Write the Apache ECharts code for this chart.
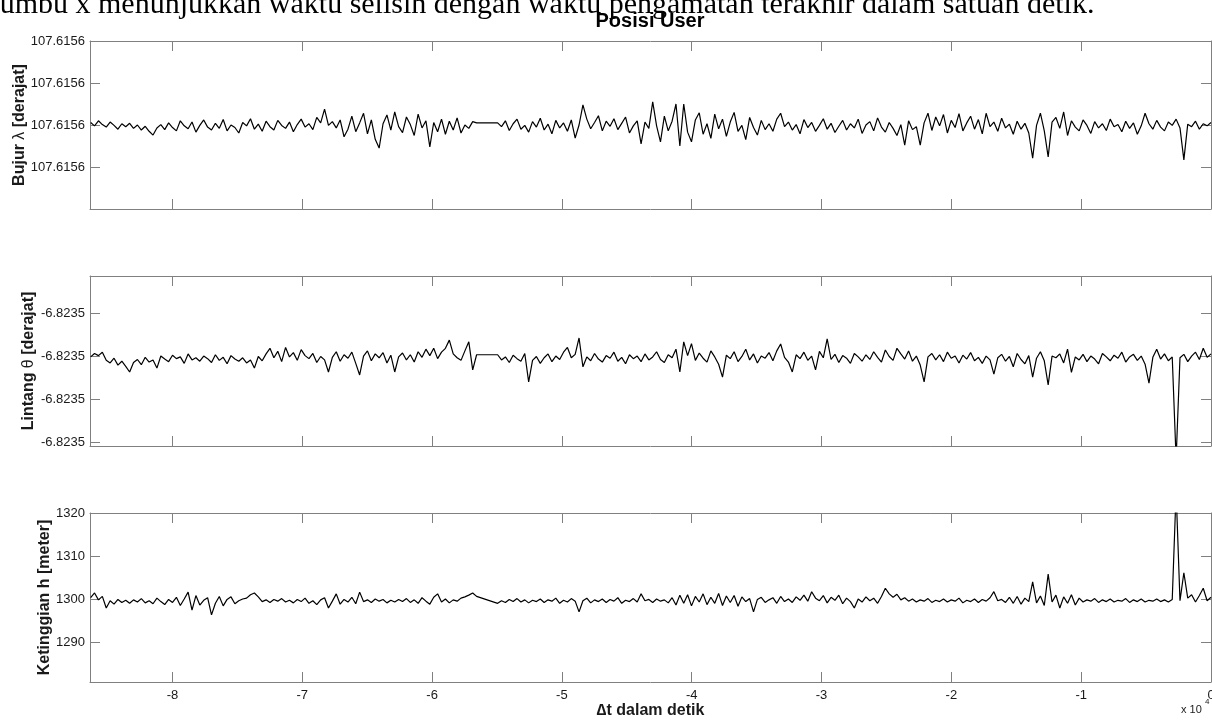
<!DOCTYPE html>
<html lang="id">
<head>
    <meta charset="UTF-8"/>
    <title>Posisi User</title>
    <script src="https://cdn.jsdelivr.net/npm/echarts@6/dist/echarts.min.js"></script>
    <style>html, body { margin: 0; background: #fff; }</style>
</head>
<body>
<div id="main" style="width: 1212px; height: 724px;"></div>
<script type="text/javascript">
    // waktu pengamatan: dua segmen (ada jeda data sekitar -5.6e4 s)
    var segmenWaktu = [[-86300, -56570], [-54950, 0]];
    var jumlahSegmen1 = 100;

    // bujur = 107.6156 + selisih * 1e-7 derajat
    var bujurSelisih = [
        206, 198, 210, 201, 195, 207, 199, 190, 203, 196,
        204, 192, 200, 188, 197, 185, 176, 193, 201, 189,
        205, 194, 186, 210, 198, 191, 207, 183, 199, 212,
        195, 188, 204, 192, 213, 186, 200, 194, 181, 206,
        198, 215, 190, 202, 185, 209, 196, 188, 211, 199,
        192, 207, 184, 201, 214, 195, 203, 189, 218, 205,
        238, 199, 208, 193, 212, 172, 190, 221, 184, 205,
        228, 179, 212, 166, 145, 203, 224, 188, 231, 196,
        182, 219, 201, 175, 226, 193, 210, 148, 206, 184,
        214, 178, 209, 188, 217, 181, 200, 192, 208, 205,
        // segmen 2
        205, 196, 210, 187, 203, 214, 190, 199, 183, 208,
        195, 216, 188, 202, 179, 211, 193, 205, 185, 212,
        169, 200, 248, 214, 191, 206, 222, 186, 209, 197,
        215, 189, 204, 219, 181, 198, 210, 155, 207, 192,
        255, 198, 160, 221, 186, 209, 250, 150, 250, 183,
        160, 212, 229, 178, 203, 168, 226, 191, 214, 173,
        207, 230, 185, 199, 165, 218, 194, 176, 211, 189,
        203, 185, 214, 228, 196, 207, 188, 201, 179, 213,
        194, 206, 185, 199, 215, 190, 204, 182, 197, 211,
        188, 203, 193, 214, 180, 200, 208, 186, 217, 195,
        183, 206, 192, 175, 201, 152, 210, 189, 196, 152,
        205, 228, 187, 219, 198, 225, 181, 211, 194, 227,
        186, 205, 221, 190, 213, 179, 228, 196, 207, 185,
        216, 193, 202, 178, 209, 190, 204, 181, 121, 199,
        228, 186, 124, 207, 218, 192, 231, 175, 210, 195,
        186, 212, 199, 180, 208, 193, 203, 187, 214, 196,
        201, 184, 209, 192, 205, 178, 198, 228, 203, 190,
        211, 195, 186, 207, 199, 214, 193, 117, 202, 196,
        209, 190, 203, 198, 206
    ];

    // lintang = -6.8235 + selisih * 1e-7 derajat
    var lintangSelisih = [
        298, 306, 301, 309, 290, 284, 295, 279, 288, 276,
        263, 285, 292, 280, 297, 286, 291, 272, 300, 293,
        287, 302, 294, 298, 283, 305, 291, 296, 288, 300,
        294, 285, 303, 290, 297, 282, 301, 293, 288, 296,
        284, 291, 272, 299, 289, 305, 318, 296, 311, 287,
        320, 298, 308, 290, 315, 301, 294, 306, 285, 299,
        291, 263, 297, 310, 288, 303, 295, 309, 283, 256,
        300, 312, 289, 305, 296, 308, 284, 302, 263, 298,
        307, 291, 303, 286, 310, 297, 316, 301, 318, 294,
        309, 318, 337, 305, 296, 290, 312, 333, 268, 303,
        // segmen 2
        303, 291, 298, 285, 302, 294, 288, 306, 240, 290,
        299, 283, 296, 305, 287, 300, 292, 309, 320, 296,
        304, 342, 275, 298, 289, 306, 293, 286, 301, 295,
        309, 288, 297, 282, 303, 294, 300, 287, 305, 291,
        298, 310, 292, 285, 303, 296, 316, 263, 333, 301,
        329, 290, 307, 295, 286, 312, 298, 281, 251, 302,
        294, 310, 287, 299, 316, 291, 305, 284, 300, 295,
        308, 289, 312, 328, 297, 286, 263, 303, 294, 309,
        290, 300, 268, 311, 296, 340, 292, 304, 285, 301,
        295, 283, 306, 298, 288, 303, 292, 310, 297, 286,
        314, 299, 290, 318, 305, 293, 312, 288, 300, 279,
        240, 298, 306, 291, 303, 287, 309, 295, 300, 284,
        302, 293, 308, 289, 297, 283, 300, 291, 258, 296,
        304, 288, 299, 275, 306, 292, 282, 301, 251, 295,
        310, 289, 233, 300, 296, 305, 284, 316, 262, 298,
        291, 304, 287, 300, 293, 282, 306, 298, 289, 302,
        295, 309, 286, 298, 304, 290, 300, 281, 237, 297,
        316, 293, 305, 289, 298, 60, 296, 304, 287, 300,
        309, 292, 318, 297, 305
    ];

    // ketinggian dalam meter
    var ketinggian = [
        1300.3, 1301.4, 1299.8, 1300.6, 1297.9, 1299.6, 1298.8, 1299.9, 1299.2, 1299.7,
        1299.0, 1299.8, 1299.3, 1300.1, 1299.1, 1299.6, 1298.9, 1300.2, 1299.4, 1298.7,
        1299.9, 1299.2, 1300.4, 1298.5, 1300.0, 1301.6, 1297.4, 1300.8, 1298.6, 1299.7,
        1300.3, 1296.3, 1299.0, 1300.6, 1298.4, 1299.9, 1300.5, 1298.9, 1299.6, 1300.0,
        1300.2, 1301.0, 1301.4, 1300.5, 1299.4, 1299.8, 1299.2, 1299.9, 1299.5, 1300.1,
        1299.3, 1299.7, 1299.1, 1299.9, 1299.4, 1300.2, 1299.0, 1299.6, 1298.7, 1299.8,
        1300.3, 1297.9, 1299.5, 1301.2, 1298.8, 1299.9, 1299.3, 1300.4, 1298.9, 1301.6,
        1299.4, 1299.8, 1299.2, 1300.0, 1299.5, 1299.9, 1299.1, 1299.7, 1299.3, 1299.9,
        1299.4, 1300.1, 1299.2, 1299.8, 1299.0, 1300.3, 1299.5, 1298.8, 1300.4, 1301.2,
        1299.3, 1300.0, 1299.1, 1299.8, 1299.5, 1300.2, 1300.5, 1300.9, 1301.4, 1300.6,
        // segmen 2
        1299.0, 1299.6, 1299.2, 1299.9, 1299.4, 1300.1, 1299.3, 1299.8, 1299.1, 1299.7,
        1299.4, 1300.0, 1299.2, 1299.8, 1299.5, 1300.2, 1299.0, 1299.7, 1299.3, 1300.1,
        1299.5, 1297.0, 1299.6, 1300.2, 1299.1, 1299.8, 1299.4, 1300.0, 1299.2, 1299.9,
        1299.5, 1300.3, 1299.0, 1299.7, 1299.4, 1300.1, 1299.3, 1301.2, 1299.6, 1299.9,
        1299.2, 1300.0, 1299.5, 1299.8, 1299.1, 1300.3, 1298.6, 1300.9, 1299.0, 1301.0,
        1298.4, 1300.6, 1299.3, 1301.2, 1298.7, 1300.4, 1299.0, 1301.3, 1298.5, 1300.7,
        1299.2, 1300.8, 1298.3, 1300.5, 1299.4, 1300.1, 1297.0, 1299.9, 1300.4, 1299.2,
        1299.8, 1300.3, 1299.0, 1300.6, 1299.4, 1300.0, 1299.2, 1300.5, 1299.7, 1300.9,
        1299.5, 1301.7, 1300.2, 1299.6, 1300.8, 1299.1, 1300.4, 1299.7, 1300.9, 1298.9,
        1300.2, 1299.4, 1297.9, 1300.0, 1299.3, 1300.5, 1299.6, 1300.2, 1299.0, 1300.6,
        1302.5, 1301.2, 1300.4, 1301.1, 1299.8, 1300.3, 1299.5, 1300.0, 1299.3, 1299.8,
        1299.5, 1300.1, 1299.2, 1299.7, 1299.4, 1300.0, 1299.3, 1299.8, 1299.5, 1300.2,
        1299.1, 1299.7, 1299.4, 1300.0, 1299.2, 1299.9, 1299.5, 1300.3, 1301.7, 1299.6,
        1299.9, 1299.2, 1300.4, 1299.0, 1300.6, 1298.8, 1300.2, 1299.4, 1304.0, 1299.1,
        1300.7, 1298.5, 1305.8, 1299.3, 1300.9, 1297.9, 1300.5, 1299.0, 1301.0, 1298.6,
        1300.2, 1299.3, 1299.8, 1299.5, 1300.1, 1299.2, 1299.8, 1299.4, 1300.0, 1299.3,
        1299.7, 1299.5, 1300.1, 1299.2, 1299.8, 1299.4, 1300.0, 1299.3, 1299.7, 1299.5,
        1300.0, 1299.4, 1299.8, 1299.3, 1299.9, 1325.0, 1299.6, 1306.1, 1300.2, 1301.0,
        1299.3, 1300.8, 1302.5, 1299.6, 1300.4
    ];

    // tick
    var tickX = [-80000, -70000, -60000, -50000, -40000, -30000, -20000, -10000, 0];
    var tickBujur = [107.61561, 107.61562, 107.61563, 107.61564];
    var tickLintang = [-6.82349, -6.82348, -6.82347, -6.82346];
    var tickTinggi = [1290, 1300, 1310, 1320];

    var fontSans = '"Liberation Sans", Arial, Helvetica, sans-serif';
    var warnaBingkai = '#808080';
    var warnaTeks = '#1a1a1a';

    function daftarWaktu(n) {
        var t = [];
        var n2 = n - jumlahSegmen1;
        var a = segmenWaktu[0], b = segmenWaktu[1];
        for (var i = 0; i < jumlahSegmen1; i++) {
            t.push(a[0] + (a[1] - a[0]) * i / (jumlahSegmen1 - 1));
        }
        for (var j = 0; j < n2; j++) {
            t.push(b[0] + (b[1] - b[0]) * j / (n2 - 1));
        }
        return t;
    }

    function pasangan(nilai) {
        var t = daftarWaktu(nilai.length);
        return nilai.map(function (v, i) { return [t[i], v]; });
    }

    var dataBujur = pasangan(bujurSelisih.map(function (d) { return 107.6156 + d * 1e-7; }));
    var dataLintang = pasangan(lintangSelisih.map(function (d) { return -6.8235 + d * 1e-7; }));
    var dataTinggi = pasangan(ketinggian);

    function sumbuX(grid, posisi, label) {
        return {
            type: 'value', gridIndex: grid, position: posisi,
            min: -86350, max: 0,
            axisLine: {show: true, onZero: false, lineStyle: {color: warnaBingkai, width: 1}},
            axisTick: {show: true, inside: true, length: 10, customValues: tickX,
                lineStyle: {color: warnaBingkai, width: 1}},
            axisLabel: {show: label, customValues: tickX, margin: 7, fontFamily: fontSans,
                fontSize: 13, color: warnaTeks, hideOverlap: false,
                formatter: function (v) { return String(Math.round(v / 1e4)); }},
            splitLine: {show: false}
        };
    }

    function sumbuY(grid, posisi, min, max, tick, label, nama, jarak) {
        var s = {
            type: 'value', gridIndex: grid, position: posisi,
            min: min, max: max, scale: true,
            axisLine: {show: true, onZero: false, lineStyle: {color: warnaBingkai, width: 1}},
            axisTick: {show: true, inside: true, length: 10, customValues: tick,
                lineStyle: {color: warnaBingkai, width: 1}},
            axisLabel: {show: !!label, customValues: tick, margin: 5, fontFamily: fontSans,
                fontSize: 13, color: warnaTeks, formatter: label || undefined},
            splitLine: {show: false}
        };
        if (nama) {
            s.name = nama;
            s.nameLocation = 'middle';
            s.nameGap = jarak;
            s.nameRotate = 90;
            s.nameMoveOverlap = false;
            s.nameTextStyle = {fontFamily: fontSans, fontSize: 16, fontWeight: 'bold', color: warnaTeks,
                rich: {g: {fontFamily: fontSans, fontSize: 16, fontWeight: 'normal', color: warnaTeks}}};
        }
        return s;
    }

    function empatDesimal(v) { return v.toFixed(4); }
    function bulat(v) { return String(Math.round(v)); }

    function kotak(top, tinggi) {
        return {left: 90, top: top, width: 1121, height: tinggi,
            containLabel: false, outerBoundsMode: 'none'};
    }
    var grids = [kotak(41, 168), kotak(276, 170), kotak(513, 169)];

    var xAxes = [
        sumbuX(0, 'bottom', false), sumbuX(0, 'top', false),
        sumbuX(1, 'bottom', false), sumbuX(1, 'top', false),
        sumbuX(2, 'bottom', true), sumbuX(2, 'top', false)
    ];
    xAxes[4].name = '\u2206t dalam detik';
    xAxes[4].nameLocation = 'middle';
    xAxes[4].nameGap = 21;
    xAxes[4].nameTextStyle = {fontFamily: fontSans, fontSize: 16, fontWeight: 'bold', color: warnaTeks};

    var yAxes = [
        sumbuY(0, 'left', 107.6156, 107.61564, tickBujur, empatDesimal, 'Bujur {g|\u03bb} [derajat]', 62),
        sumbuY(0, 'right', 107.6156, 107.61564, tickBujur, null),
        sumbuY(1, 'left', -6.8235 + 91e-7, -6.8235 + 486e-7, tickLintang, empatDesimal, 'Lintang {g|\u03b8} [derajat]', 53),
        sumbuY(1, 'right', -6.8235 + 91e-7, -6.8235 + 486e-7, tickLintang, null),
        sumbuY(2, 'left', 1280.7, 1320, tickTinggi, bulat, 'Ketinggian h [meter]', 37),
        sumbuY(2, 'right', 1280.7, 1320, tickTinggi, null)
    ];

    function seri(idx, data) {
        return {
            type: 'line', xAxisIndex: idx * 2, yAxisIndex: idx * 2, data: data,
            showSymbol: false, symbol: 'none', clip: true,
            lineStyle: {color: '#000', width: 1.2}
        };
    }

    var myChart = echarts.init(document.getElementById('main'));
    var option = {
        animation: false,
        backgroundColor: '#fff',
        grid: grids,
        xAxis: xAxes,
        yAxis: yAxes,
        series: [seri(0, dataBujur), seri(1, dataLintang), seri(2, dataTinggi)],
        graphic: [
            {type: 'text', x: -12, y: 5, silent: true,
                style: {text: 'sumbu x menunjukkan waktu selisih dengan waktu pengamatan terakhir dalam satuan detik.',
                    font: '30px "Liberation Serif", "Times New Roman", serif', fill: '#000',
                    textAlign: 'left', textVerticalAlign: 'middle', align: 'left', verticalAlign: 'middle'}},
            {type: 'text', x: 650, y: 21, silent: true,
                style: {text: 'Posisi User', font: 'bold 20px ' + fontSans, fill: '#000',
                    textAlign: 'center', textVerticalAlign: 'middle', align: 'center', verticalAlign: 'middle'}},
            {type: 'text', x: 1181, y: 710, silent: true,
                style: {text: 'x 10', font: '11px ' + fontSans, fill: warnaTeks,
                    textAlign: 'left', textVerticalAlign: 'middle', align: 'left', verticalAlign: 'middle'}},
            {type: 'text', x: 1205, y: 702, silent: true,
                style: {text: '4', font: '8px ' + fontSans, fill: warnaTeks,
                    textAlign: 'left', textVerticalAlign: 'middle', align: 'left', verticalAlign: 'middle'}}
        ]
    };

    myChart.setOption(option);
</script>
</body>
</html>
